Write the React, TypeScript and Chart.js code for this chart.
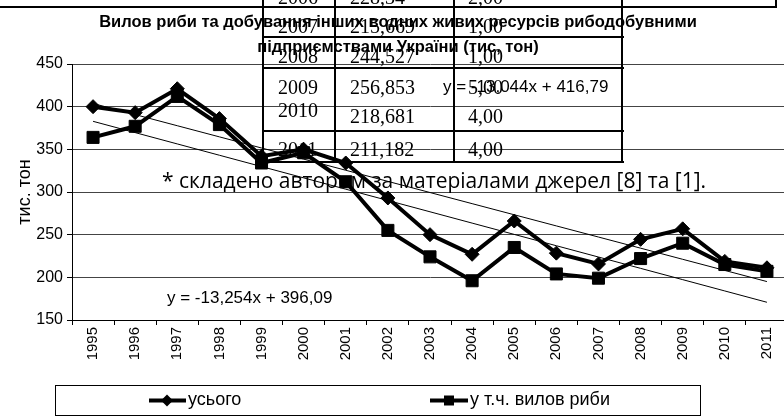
import React, { useEffect, useRef } from 'react';
import { Chart, registerables } from 'chart.js';

Chart.register(...registerables);

// ---- data ----
const years = ['1995', '1996', '1997', '1998', '1999', '2000', '2001', '2002', '2003', '2004', '2005', '2006', '2007', '2008', '2009', '2010', '2011'];
const totalCatch = [400, 393, 421, 386, 342, 350, 334, 293, 250, 227, 266, 228.34, 215.669, 244.527, 256.853, 218.681, 211.182];
const fishCatch = [364, 377, 412, 379, 334, 346, 312, 255, 224, 196, 235, 204, 199, 222, 240, 215, 207];
const seriesNames = ['усього', 'у т.ч. вилов риби'];
const trendTotal = { slope: -13.044, intercept: 416.79, label: 'y = -13,044x + 416,79' };
const trendFish = { slope: -13.254, intercept: 396.09, label: 'y = -13,254x + 396,09' };
const yMin = 150;
const yMax = 450;
const yStep = 50;
const titleLines = ['Вилов риби та добування інших водних живих ресурсів рибодобувними', 'підприємствами України (тис, тон)'];
const yAxisTitle = 'тис. тон';
const noteText = '* складено автором за матеріалами джерел [8] та [1].';
const tableYears = ['2006', '2007', '2008', '2009', '2010', '2011'];
const tableValues = ['228,34', '215,669', '244,527', '256,853', '218,681', '211,182'];
const tableRatios = ['2,00', '1,00', '1,00', '5,00', '4,00', '4,00'];

const SANS = '"Liberation Sans", Arial, sans-serif';
const SERIF = '"Liberation Serif", "Times New Roman", serif';

const legendPlugin = {
  id: 'boxLegend',
  afterDraw(chart: any) {
    const ctx = chart.ctx as CanvasRenderingContext2D;
    ctx.save();
    ctx.strokeStyle = '#000';
    ctx.lineWidth = 1;
    ctx.strokeRect(55.5, 385.5, 645, 30);
    const cy = 400.5;
    const items = [
      { x0: 149, x1: 186, mx: 167, text: seriesNames[0], tx: 188, style: 'diamond' },
      { x0: 430, x1: 468, mx: 449, text: seriesNames[1], tx: 470, style: 'square' },
    ];
    items.forEach((it) => {
      ctx.strokeStyle = '#000';
      ctx.fillStyle = '#000';
      ctx.lineWidth = 4;
      ctx.beginPath();
      ctx.moveTo(it.x0, cy);
      ctx.lineTo(it.x1, cy);
      ctx.stroke();
      ctx.beginPath();
      if (it.style === 'diamond') {
        ctx.moveTo(it.mx, cy - 6);
        ctx.lineTo(it.mx + 6, cy);
        ctx.lineTo(it.mx, cy + 6);
        ctx.lineTo(it.mx - 6, cy);
        ctx.closePath();
      } else {
        ctx.rect(it.mx - 5, cy - 5, 10, 10);
      }
      ctx.fill();
      ctx.font = '18px ' + SANS;
      ctx.textBaseline = 'middle';
      ctx.textAlign = 'left';
      ctx.fillText(it.text, it.tx, cy);
    });
    ctx.restore();
  },
};

export default function App() {
  const ref = useRef<HTMLCanvasElement | null>(null);

  useEffect(() => {
    if (!ref.current) return;
    const trendA = years.map((_, i) => trendTotal.slope * (i + 1) + trendTotal.intercept);
    const trendB = years.map((_, i) => trendFish.slope * (i + 1) + trendFish.intercept);
    const chart = new Chart(ref.current, {
      type: 'line',
      data: {
        labels: years,
        datasets: [
          {
            label: seriesNames[0],
            data: totalCatch,
            borderColor: '#000',
            backgroundColor: '#000',
            borderWidth: 4,
            pointStyle: 'rectRot',
            pointRadius: 7,
            pointBorderWidth: 1,
            pointBackgroundColor: '#000',
            pointBorderColor: '#000',
            tension: 0,
          },
          {
            label: seriesNames[1],
            data: fishCatch,
            borderColor: '#000',
            backgroundColor: '#000',
            borderWidth: 4,
            pointStyle: 'rect',
            pointRadius: 8.5,
            pointBorderWidth: 1,
            pointBackgroundColor: '#000',
            pointBorderColor: '#000',
            tension: 0,
          },
          {
            label: 'trend1',
            data: trendA,
            borderColor: '#000',
            borderWidth: 1,
            pointRadius: 0,
            tension: 0,
          },
          {
            label: 'trend2',
            data: trendB,
            borderColor: '#000',
            borderWidth: 1,
            pointRadius: 0,
            tension: 0,
          },
        ],
      },
      options: {
        animation: false,
        responsive: false,
        events: [],
        layout: { padding: { top: 64, right: 12, left: 0, bottom: 0 } },
        plugins: {
          legend: { display: false },
          tooltip: { enabled: false },
          title: { display: false },
        },
        scales: {
          x: {
            type: 'category',
            offset: true,
            grid: {
              display: true,
              drawOnChartArea: false,
              drawTicks: true,
              tickLength: 5,
              color: '#000',
              offset: true,
            },
            border: { color: '#000', width: 1 },
            ticks: {
              autoSkip: false,
              maxRotation: 90,
              minRotation: 90,
              padding: 2,
              color: '#000',
              font: { family: SANS, size: 15 },
            },
            afterFit: (s: any) => {
              s.height = 97;
            },
          },
          y: {
            min: yMin,
            max: yMax,
            ticks: {
              stepSize: yStep,
              padding: 4,
              color: '#000',
              font: { family: SANS, size: 16 },
            },
            grid: {
              color: '#444',
              tickColor: '#000',
              tickLength: 5,
              drawTicks: true,
            },
            border: { color: '#000', width: 1 },
            title: {
              display: true,
              text: yAxisTitle,
              color: '#000',
              font: { family: SANS, size: 18 },
              padding: { top: 14, bottom: 0 },
            },
            afterFit: (s: any) => {
              s.width = 72;
            },
          },
        },
      },
      plugins: [legendPlugin],
    } as any);
    return () => chart.destroy();
  }, []);

  const rowCy = [-3, 26, 56, 87, 116, 149];
  const hLines = [37, 68, 131, 162];
  const vLines = [263, 335, 454, 622];

  const abs = (extra: React.CSSProperties): React.CSSProperties => ({
    position: 'absolute',
    whiteSpace: 'nowrap',
    ...extra,
  });

  return (
    <div style={{ position: 'fixed', left: 0, top: 0, width: 784, height: 417, overflow: 'hidden', background: '#fff' }}>
      <canvas ref={ref} width={800} height={417} style={{ position: 'absolute', left: 0, top: 0, width: 800, height: 417 }} />
      {/* table overlay */}
      <div style={abs({ left: 0, top: 6, width: 777, height: 2, background: '#000' })} />
      <div style={abs({ left: 775, top: 0, width: 2, height: 8, background: '#000' })} />
      {hLines.map((y, i) => (
        <div key={'h' + i} style={abs({ left: 263, top: y - 1, width: 361, height: 2, background: '#000' })} />
      ))}
      {vLines.map((x, i) => (
        <div key={'v' + i} style={abs({ left: x - 1, top: 0, width: 2, height: 163, background: '#000' })} />
      ))}
      {tableYears.map((yr, i) => (
        <React.Fragment key={'r' + i}>
          <div style={abs({ left: 278, top: rowCy[i] - 12 - (i === 4 ? 6 : 0), lineHeight: '24px', fontSize: 20, fontFamily: SERIF, color: '#000' })}>{yr}</div>
          <div style={abs({ left: 350, top: rowCy[i] - 12, lineHeight: '24px', fontSize: 20, fontFamily: SERIF, color: '#000' })}>{tableValues[i]}</div>
          <div style={abs({ left: 468, top: rowCy[i] - 12, lineHeight: '24px', fontSize: 20, fontFamily: SERIF, color: '#000' })}>{tableRatios[i]}</div>
        </React.Fragment>
      ))}
      {/* title */}
      {titleLines.map((t, i) => (
        <div key={'t' + i} style={abs({ left: 0, width: 796, textAlign: 'center', top: (i === 0 ? 21 : 46) - 10, lineHeight: '20px', fontSize: 16.5, fontWeight: 'bold', fontFamily: SANS, color: '#000' })}>{t}</div>
      ))}
      {/* note */}
      <div style={abs({ left: 162, top: 166, lineHeight: '28px', fontSize: 21, fontFamily: '"Open Sans", sans-serif', color: '#000' })}>{noteText}</div>
      {/* trend equations */}
      <div style={abs({ left: 443, top: 77, lineHeight: '20px', fontSize: 17, fontFamily: SANS, color: '#000' })}>{trendTotal.label}</div>
      <div style={abs({ left: 167, top: 288, lineHeight: '20px', fontSize: 17, fontFamily: SANS, color: '#000' })}>{trendFish.label}</div>
    </div>
  );
}
